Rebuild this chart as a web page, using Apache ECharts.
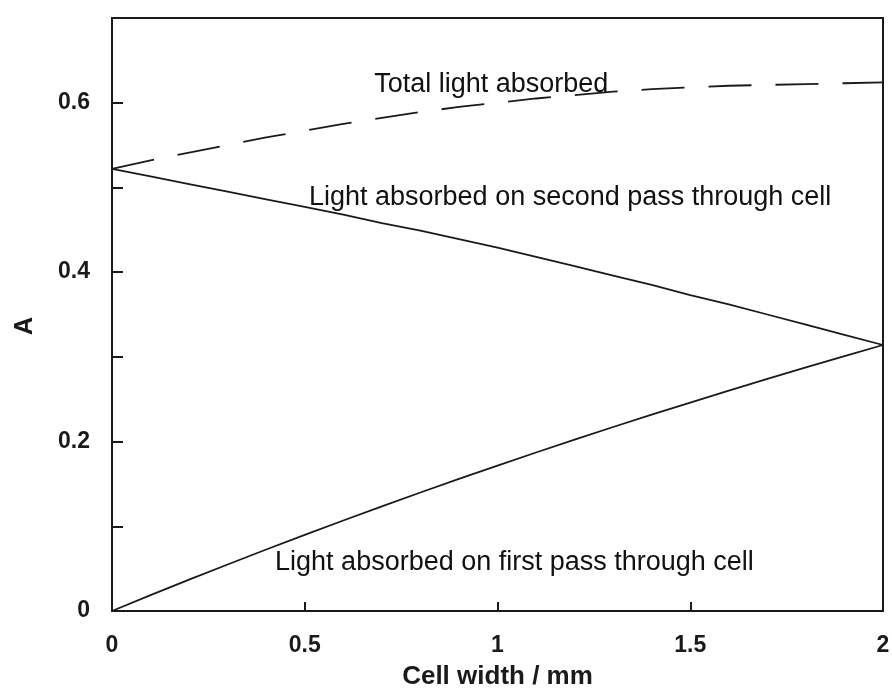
<!DOCTYPE html>
<html>
<head>
<meta charset="utf-8">
<script src="https://cdn.jsdelivr.net/npm/echarts@6/dist/echarts.min.js"></script>
<style>
html,body{margin:0;padding:0;background:#fff;}
#chart{width:892px;height:689px;}
</style>
</head>
<body>
<div id="chart"></div>
<script>
// Cell width (mm)
var cellWidth = [0,0.1,0.2,0.3,0.4,0.5,0.6,0.7,0.8,0.9,1.0,1.1,1.2,1.3,1.4,1.5,1.6,1.7,1.8,1.9,2.0];
// Light absorbed on first pass through cell
var firstPass = [0,0.0187,0.0370,0.0549,0.0726,0.0899,0.1068,0.1235,0.1399,0.1559,0.1715,0.1871,0.2023,0.2172,0.2318,0.2460,0.2602,0.2740,0.2875,0.3008,0.314];
// Light absorbed on second pass through cell
var secondPass = [0.522,0.513,0.504,0.495,0.486,0.477,0.468,0.458,0.449,0.439,0.429,0.418,0.407,0.396,0.385,0.373,0.362,0.350,0.338,0.326,0.314];
// Total light absorbed
var totalLight = [0.522,0.532,0.541,0.550,0.559,0.567,0.575,0.582,0.589,0.595,0.600,0.605,0.609,0.613,0.616,0.618,0.620,0.621,0.622,0.623,0.624];
// Curve annotations [x, y, text]
var annotations = [
  [0.68, 0.622, 'Total light absorbed'],
  [0.511, 0.488, 'Light absorbed on second pass through cell'],
  [0.423, 0.057, 'Light absorbed on first pass through cell']
];
var yLabels = ['0','0.2','0.4','0.6'];
var xTitle = 'Cell width / mm';
var yTitle = 'A';

function pairs(xs, ys){ return xs.map(function(x,i){ return [x, ys[i]]; }); }

var ink = '#1a1a1a';
var font = 'Liberation Sans, Arial, sans-serif';
var chart = echarts.init(document.getElementById('chart'), null, {renderer:'canvas'});
var lineStyleBase = {color: ink, width: 1.8};
chart.setOption({
  backgroundColor: '#ffffff',
  animation: false,
  grid: {left: 112, right: 9, top: 18, bottom: 78, outerBoundsMode: 'none', containLabel: false,
         show: true, borderColor: ink, borderWidth: 2, backgroundColor: 'transparent'},
  graphic: [
    {type: 'text', x: 25, y: 326, rotation: Math.PI/2,
     style: {text: yTitle, font: 'bold 25px ' + font, fill: ink, textAlign: 'center', textVerticalAlign: 'middle'}}
  ],
  xAxis: {
    type: 'value', min: 0, max: 2, interval: 0.5,
    name: xTitle, nameLocation: 'middle', nameGap: 53,
    nameTextStyle: {fontFamily: font, fontWeight: 'bold', fontSize: 26, color: ink},
    axisLine: {show: true, lineStyle: {color: ink, width: 2}},
    axisTick: {show: true, inside: true, length: 9, lineStyle: {color: ink, width: 2}},
    axisLabel: {margin: 23, fontFamily: font, fontWeight: 'bold', fontSize: 23, color: ink},
    splitLine: {show: false}
  },
  yAxis: {
    type: 'value', min: 0, max: 0.7, interval: 0.1,
    axisLine: {show: true, lineStyle: {color: ink, width: 2}},
    axisTick: {show: true, inside: true, length: 11, lineStyle: {color: ink, width: 2}},
    axisLabel: {margin: 22, fontFamily: font, fontWeight: 'bold', fontSize: 23, color: ink,
      formatter: function(v){
        var k = Math.round(v*10);
        return (k % 2 === 0) ? (yLabels[k/2] || '') : '';
      }},
    splitLine: {show: false}
  },
  series: [
    {type: 'line', data: pairs(cellWidth, totalLight), showSymbol: false, symbol: 'none',
     lineStyle: Object.assign({}, lineStyleBase, {type: [43, 24]})},
    {type: 'line', data: pairs(cellWidth, secondPass), showSymbol: false, symbol: 'none', lineStyle: lineStyleBase},
    {type: 'line', data: pairs(cellWidth, firstPass), showSymbol: false, symbol: 'none', lineStyle: lineStyleBase},
    {type: 'scatter', symbolSize: 0, silent: true,
     data: annotations.map(function(a){ return {value: [a[0], a[1]], name: a[2]}; }),
     label: {show: true, position: 'right', distance: 0, formatter: '{b}', opacity: 1,
       textBorderWidth: 0, fontFamily: font, fontSize: 27, color: '#111111'}}
  ]
});
</script>
</body>
</html>
